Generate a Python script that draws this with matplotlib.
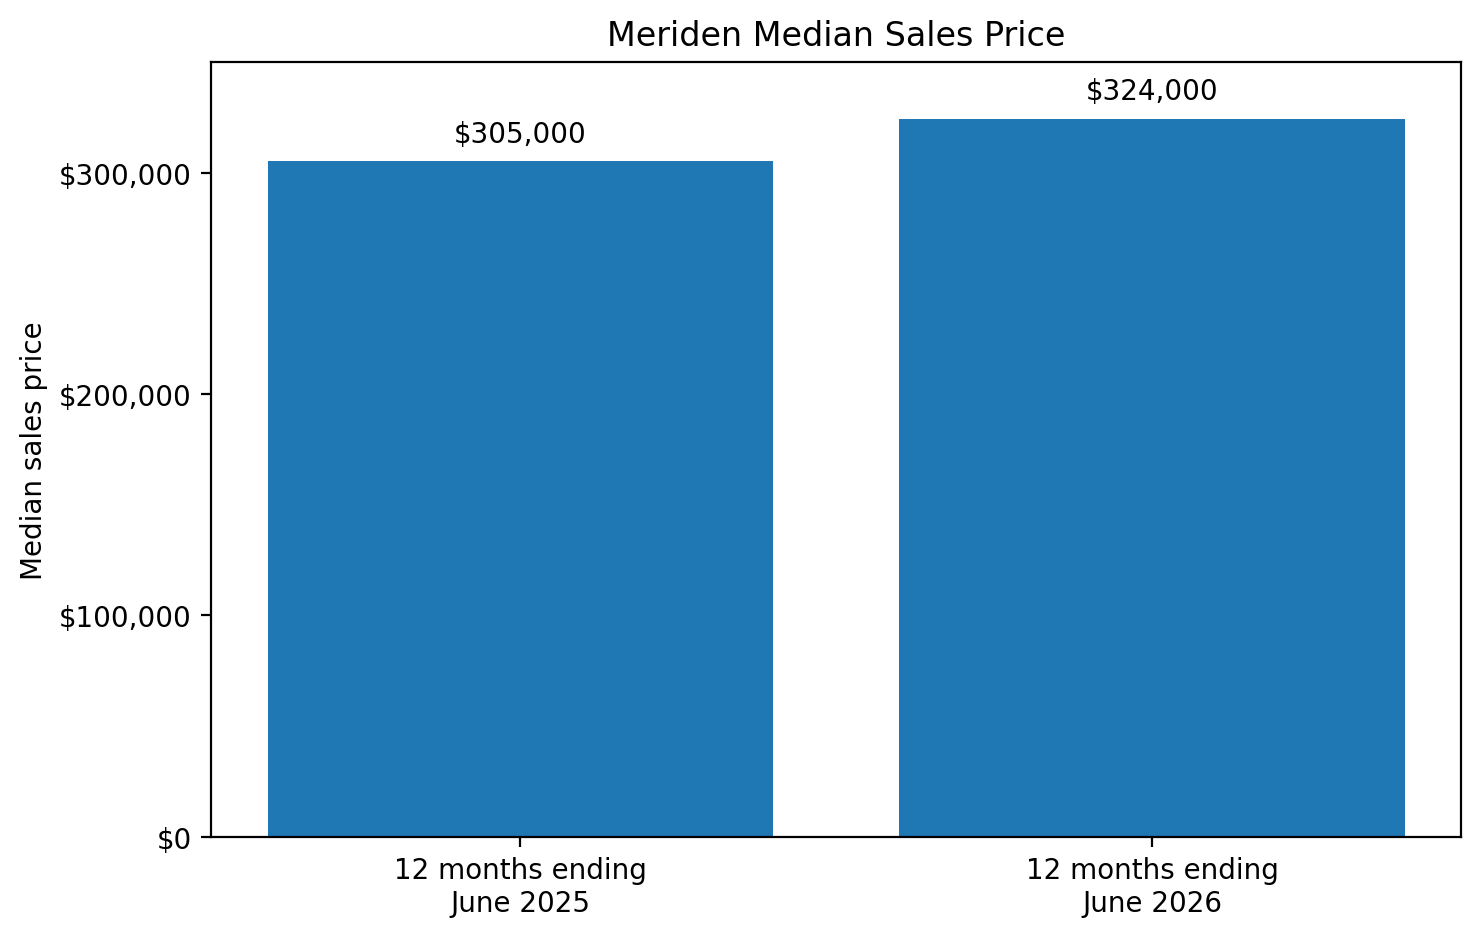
import matplotlib
matplotlib.use("Agg")
from matplotlib import pyplot as plt
from matplotlib.ticker import FuncFormatter

# data
periods = ["12 months ending\nJune 2025", "12 months ending\nJune 2026"]
prices = [305000, 324000]

fig, ax = plt.subplots(figsize=(7.405, 4.685), dpi=200)
fig.subplots_adjust(left=0.1425, right=0.9868, top=0.9328, bottom=0.1058)

bars = ax.bar(periods, prices, color="#1f77b4")
ax.bar_label(bars, labels=[f"${p:,.0f}" for p in prices], padding=5)

ax.set_ylim(0, max(prices) * 1.08)
ax.yaxis.set_major_formatter(FuncFormatter(lambda v, pos: f"${v:,.0f}"))
ax.set_yticks([0, 100000, 200000, 300000])
ax.set_ylabel("Median sales price")
ax.set_title("Meriden Median Sales Price")

fig.savefig("out.png", dpi=200)
